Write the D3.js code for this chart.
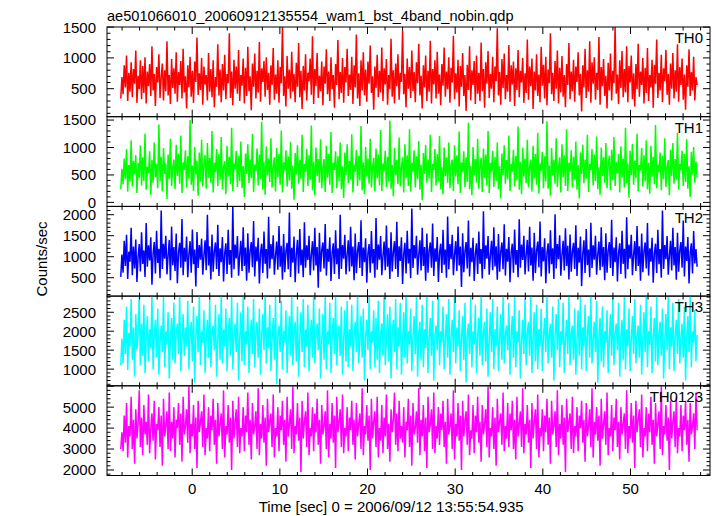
<!DOCTYPE html>
<html>
<head>
<meta charset="utf-8">
<script src="https://cdn.jsdelivr.net/npm/d3@7"></script>
<style>
  html, body { margin: 0; padding: 0; background: #fff; }
  svg { display: block; }
  text { font-family: "Liberation Sans", Arial, Helvetica, sans-serif; fill: #000; }
</style>
</head>
<body>
<script>
// ---------- data ----------
const title = "ae501066010_20060912135554_wam1_bst_4band_nobin.qdp";
const xLabel = "Time [sec] 0 = 2006/09/12 13:55:54.935";
const yLabel = "Counts/sec";
const bands = ["TH0", "TH1", "TH2", "TH3", "TH0123"];
const bandColors = ["#ff0000", "#00ff00", "#0000ff", "#00ffff", "#ff00ff"];
const timeStart = -8.15, timeEnd = 57.6;
const xTicks = [0, 10, 20, 30, 40, 50];
const yTickLabels = [
  [500, 1000, 1500],
  [0, 500, 1000, 1500],
  [500, 1000, 1500, 2000],
  [1000, 1500, 2000, 2500],
  [2000, 3000, 4000, 5000]
];

const th0 = [
340,690,410,880,520,1040,300,760,450,930,360,820,580,1120,270,710,490,960,330,870,430,1010,260,780,540,
900,380,1190,470,740,220,850,600,1060,350,690,910,310,800,460,1270,390,720,250,980,510,830,420,1090,290,
770,560,950,340,1150,440,700,180,880,520,1020,370,790,270,940,610,1330,400,750,480,1000,240,860,570,720,
310,1080,450,820,360,960,200,690,530,1220,390,810,280,900,470,1050,330,740,590,1400,350,780,230,970,500,
860,420,1130,300,720,550,990,260,840,380,1180,460,700,150,910,530,1070,340,790,440,1260,290,830,610,950,
370,1010,480,760,240,880,560,1160,320,730,420,960,270,850,590,1500,380,700,210,1030,500,810,340,1100,450,
740,280,920,530,1240,360,790,170,870,470,1060,310,760,620,990,400,1350,250,820,540,1080,350,710,460,940,
230,860,580,1140,410,780,300,1010,490,720,190,900,560,1290,330,770,430,1000,270,850,600,1150,380,730,480,
1020,250,880,520,1380,340,750,220,960,470,1090,390,810,290,940,580,1200,430,700,160,860,510,1050,360,790,
440,1170,300,830,570,980,240,720,490,1310,370,800,260,910,540,1060,320,760,610,1450,410,740,200,990,500,
850,350,1120,460,770,280,930,590,1230,390,710,180,880,520,1040,300,790,450,1280,260,820,570,960,340,1100,
420,730,230,900,550,1170,370,780,490,1010,270,840,600,1360,330,750,440,970,210,870,530,1080,380,720,140,
890,480,1190,310,800,560,950,250,1040,420,760,300,1250,460,820,190,930,580,1110,350,740,500,1020,280,860,
620,1480,390,770,240,980,510,1070,330,720,450,1210,290,880,570,940,220,830,480,1130,360,790,600,1000,270,
750,430,1300,320,860,540,990,170,780,470,1060,380,730,280,1180,550,890,340,1020,230,810,590,1400,410,760,
300,950,500,1120,260,840,440,1030,370,720,200,900,560,1240,330,780,460,970,290,860,610,1090,390,740,130,
880,520,1150,350,800,450,1270,270,930,580,1010,320,760,480,1340,240,850,540,980,380,710,180,920,470,1070,
310,790,590,1500,420,730,250,960,510,1110,360,820,440,1190,280,870,600,1040,330,750,210,900,490,1230,370,
780,560,1000,260,840,430,1160,300,720,520,970,190,890,580,1300,350,760,470,1050,280,830,620,1130,400,740,
240,910,500,1080,340,800,450,1220,290,850,560,990,320,730,160,880,530,1140,380,770,470,1020,310,690,560];

const th1 = [
240,610,330,800,420,970,200,680,380,1130,290,760,510,860,170,720,450,1040,310,820,390,1250,230,650,530,
930,140,770,360,1090,460,700,260,1420,380,830,200,990,520,710,60,870,420,1160,300,640,780,240,1050,480,
890,340,1220,170,730,590,950,270,840,430,1500,320,670,210,1010,510,760,120,910,380,1140,290,700,860,250,
1080,450,810,360,1300,180,720,550,970,300,880,410,1190,240,640,750,150,1030,470,830,330,1360,210,710,600,
940,280,850,390,1110,260,660,100,890,520,1060,350,780,440,1250,190,690,570,980,310,870,420,1470,230,740,
140,1020,490,800,370,1170,270,650,820,200,990,460,880,320,1310,180,730,580,950,290,840,400,1100,250,670,
50,900,510,1040,340,770,430,1230,190,700,560,970,300,860,410,1400,220,740,130,1000,480,790,360,1150,260,
650,790,190,1030,450,880,320,1280,170,720,590,930,260,840,390,1090,240,660,80,910,500,1060,350,760,420,
1240,180,690,560,960,300,850,400,1390,220,730,150,1010,470,800,340,1160,270,640,810,200,980,440,870,310,
1320,210,710,570,940,280,830,380,1490,250,680,110,990,490,770,330,1180,290,630,820,180,1060,450,860,300,
1330,200,720,560,950,270,840,420,1120,230,690,40,900,520,1050,360,780,430,1230,190,700,590,970,310,880,
390,1210,240,640,150,1000,480,820,360,1090,260,690,780,210,1040,470,860,330,1290,170,730,550,930,280,820,
370,1450,240,660,130,1010,490,790,360,1160,250,640,810,190,980,450,870,310,1300,170,720,570,940,280,830,
390,1090,240,660,70,890,500,1040,340,770,420,1220,210,700,560,960,290,850,400,1380,230,740,150,1000,470,
800,350,1140,270,650,780,200,1030,440,880,320,1270,160,710,580,920,260,840,380,1480,250,670,120,990,490,
770,340,1170,280,630,820,180,1060,460,860,300,1330,210,720,560,950,270,830,410,1110,230,680,70,910,520,
1050,350,780,430,1230,190,700,590,970,310,870,390,1200,240,640,140,1000,480,820,360,1080,260,690,850,220,
960,410,1190,300,740,530,880,180,1020,450,800,270,1360,350,710,90,940,500,1070,320,760,440,1250,200,680,
580,990,290,860,380,1130,240,720,160,1030,470,830,330,1410,260,690,550,910,220,850,420,1170,280,650,770,
130,960,480,1080,340,790,410,1270,230,700,590,940,300,880,370,1150,250,660,100,920,510,1010,360,750,450];

const th2 = [
520,1050,620,1380,780,1520,470,1120,880,1690,560,1240,720,1410,400,990,1300,650,1580,830,1150,520,1800,760,1270,
910,1460,330,1080,1350,600,1620,850,1190,490,2100,710,1310,950,1500,580,1040,1400,440,1720,800,1230,660,1550,370,
1100,1330,740,1900,560,1210,880,1480,510,1060,1370,620,1650,820,1170,290,1590,730,1280,930,1430,570,1020,1390,680,
2000,790,1250,460,1530,640,1130,1340,710,1760,540,1200,870,1470,410,1080,1320,590,1640,810,1160,500,2200,700,1290,
960,1490,550,1050,1380,660,1700,780,1220,430,1560,620,1140,1350,750,1850,530,1240,890,1450,360,1090,1310,610,1600,
830,1180,480,1950,720,1300,940,1510,570,1030,1360,690,1730,760,1260,450,1540,630,1120,1330,700,2050,520,1210,860,
1480,390,1070,1400,600,1660,800,1170,510,1820,740,1270,920,1500,560,1040,1370,670,1690,790,1230,260,1570,640,1150,
1340,720,1780,550,1190,880,1460,420,1100,1320,590,1630,820,1200,470,2000,710,1280,950,1520,580,1060,1390,650,1710,
770,1240,440,1550,610,1130,1350,730,1870,540,1220,870,1440,380,1080,1300,620,1610,840,1180,500,1920,690,1290,930,
1490,560,1020,1360,680,1740,760,1210,470,1580,650,1110,1370,710,1830,520,1250,900,1460,350,1070,1330,600,1620,840,
1190,490,2150,730,1280,960,1500,570,1040,1390,670,1690,780,1230,430,1550,620,1150,1340,740,1790,540,1200,880,1470,
400,1090,1310,610,1640,810,1170,500,1960,700,1300,940,1520,560,1050,1370,660,1720,790,1240,280,1560,630,1130,1350,
720,1860,530,1210,870,1450,420,1080,1320,590,1600,830,1180,480,2080,710,1270,950,1490,570,1030,1380,680,1700,770,
1250,450,1540,640,1120,1340,700,1770,550,1190,880,1470,390,1100,1310,620,1650,810,1160,510,1890,740,1290,920,1500,
580,1060,1400,650,1710,790,1220,430,1570,610,1140,1360,750,1840,530,1230,890,1440,370,1090,1320,600,1630,820,1200,
470,2010,720,1300,940,1510,550,1040,1380,670,1680,780,1260,460,1530,640,1120,1330,710,1750,540,1210,860,1480,300,
1070,1390,610,1660,800,1170,510,1810,730,1270,930,1500,570,1050,1360,680,1700,760,1230,440,1560,620,1140,1350,730,
1880,540,1220,870,1460,410,1090,1320,590,1620,830,1190,480,1940,700,1290,950,1520,560,1040,1370,660,1730,780,1250,
430,1550,630,1130,1340,720,1800,550,1200,880,1450,380,1080,1310,610,1640,820,1180,500,2100,710,1280,940,1490,570,
1020,1380,670,1690,790,1230,450,1570,640,1150,1350,740,1860,530,1240,900,1470,360,1090,1320,600,1610,840,1180,760];

const th3 = [
1100,1800,1150,2300,1400,2650,980,1950,1600,2850,1250,2100,800,2450,1500,1900,2950,1100,2200,1350,2700,900,1750,2400,1200,
2050,1550,2950,1000,1850,2300,1300,2600,850,1700,2150,1450,2900,1050,2000,1650,2500,750,1800,2350,1250,2750,1150,1950,2200,
1400,2950,950,1750,2450,1350,2100,1600,2800,1000,1900,2250,1200,2650,650,1850,2400,1450,2950,1100,2000,1700,2550,900,1800,
2300,1300,2850,1050,1950,2150,1500,2700,800,1750,2450,1250,2950,1150,2050,1600,2600,950,1850,2350,1350,2900,1000,1900,2200,
1450,2750,700,1800,2500,1200,2950,1100,2000,1650,2650,900,1750,2300,1400,2850,1050,1950,2250,1300,2600,850,1850,2450,1500,
2950,1150,2100,1550,2700,950,1800,2350,1250,2900,600,1900,2150,1450,2800,1000,2000,1700,2550,900,1750,2400,1350,2950,1100,
1950,2250,1200,2650,800,1850,2500,1450,2850,1050,2050,1600,2700,950,1800,2300,1300,2950,1150,1900,2200,1500,2600,750,1750,
2450,1250,2900,1000,2000,1650,2750,900,1850,2350,1400,2950,1100,1950,2150,1350,2650,850,1800,2550,1200,2800,1050,2050,1600,
2700,950,1900,2250,1450,2950,1150,1750,2400,1300,2600,700,1850,2300,1500,2900,1000,2000,1700,2550,1050,2350,1250,2800,900,
1950,2200,1350,2950,1100,1800,2450,1200,2650,750,1900,2300,1450,2850,1000,2100,1600,2750,850,1750,2500,1300,2950,1150,2000,
1650,2600,950,1850,2400,1400,2900,800,1950,2250,1250,2700,1050,2050,1550,2950,900,1800,2350,1350,2800,700,1900,2150,1500,
2950,1100,2000,1700,2650,1000,1750,2450,1300,2850,850,1850,2300,1450,2950,1150,2100,1600,2550,950,1800,2400,1250,2750,650,
1900,2200,1400,2900,1050,2000,1650,2700,900,1850,2350,1350,2950,1100,1950,2250,1200,2600,800,1750,2500,1450,2850,1000,2050,
1600,2650,950,1800,2450,1250,2950,1150,1900,2150,1500,2750,850,1850,2400,1300,2900,1050,2000,1700,2550,750,1750,2300,1400,
2850,1100,1950,2250,1350,2950,900,1800,2500,1200,2700,1000,2050,1600,2600,950,1850,2350,1450,2950,1150,1900,2200,1300,2650,
700,1850,2450,1500,2850,1050,2000,1650,2750,900,1800,2300,1400,2950,1100,1950,2150,1250,2600,850,1750,2550,1350,2900,1000,
2100,1600,2700,950,1900,2400,1300,2950,1150,1750,2250,1450,2800,650,1850,2350,1200,2650,1050,2000,1700,2550,900,1800,2450,
1350,2950,1100,1950,2200,1500,2750,800,1850,2300,1250,2900,1000,2050,1600,2600,950,1750,2400,1400,2850,1150,1900,2150,1300,
2700,850,1800,2500,1450,2950,1050,2000,1650,2650,900,1850,2350,1200,2950,1100,1950,2250,1350,2600,750,1750,2450,1500,2900,
1000,2100,1600,2750,950,1900,2300,1400,2850,1150,1800,2200,1300,2650,700,1850,2400,1450,2950,1050,2000,1700,2550,1200,1900];

const th0123 = [
3000,3800,2900,4600,3300,5200,2600,4100,3600,5500,3000,4400,2300,4900,3500,4200,5800,3100,4500,2700,5100,3700,4300,3200,5600,
2800,4000,4700,3400,5300,2500,4200,3900,5000,3100,4600,2200,5400,3600,4100,4800,3000,5700,2900,4300,3500,5000,2600,4400,4000,
5200,3200,4700,2400,5500,3700,4100,4900,3300,6000,2800,4200,3600,5100,3000,4500,2100,5300,3800,4300,4800,3100,5600,2700,4000,
3500,5000,2900,4600,3900,5400,3200,4400,2300,5200,3600,4200,4700,3000,5800,2600,4100,3700,5100,3300,4500,2000,5300,3500,4300,
4900,3100,5500,2800,4000,3600,5000,2900,4600,3800,5700,3200,4400,2500,5200,3700,4100,4800,3000,5900,2700,4200,3500,5100,3300,
4500,2200,5400,3800,4300,4700,3100,5600,2600,4000,3600,5000,2900,4600,3900,5300,3200,4400,2400,5500,3600,4200,4900,3000,6000,
2800,4100,3700,5200,3400,4500,1900,5300,3500,4300,4800,3100,5700,2700,4000,3600,5000,2900,4700,3800,5400,3200,4400,2300,5100,
3700,4100,4800,3000,5800,2600,4200,3500,5200,3300,4600,2100,5500,3800,4300,4900,3100,5600,2800,4000,3600,5000,2900,4500,3900,
5300,3200,4400,2500,5200,3600,4200,4700,3000,5900,2700,4100,3700,5100,3400,4600,2000,5400,3500,4300,4800,3100,5500,2600,4000,
3400,5100,2800,4500,3600,5600,3000,4200,2400,4900,3800,4400,5700,3200,4700,2900,5300,3500,4100,3300,5000,2600,4300,3900,5400,
3100,4600,2200,5200,3700,4000,4800,3300,5900,2700,4400,3600,5100,2900,4500,2100,5500,3800,4200,4900,3000,5700,2800,4100,3500,
5000,3200,4700,3900,5300,3100,4300,2300,5400,3700,4100,4700,3000,5800,2500,4200,3600,5200,3400,4600,2000,5300,3600,4400,4800,
3200,5600,2700,3900,3500,5100,2800,4600,3800,5500,3300,4300,2400,5100,3700,4200,4900,3100,6000,2600,4000,3600,5000,3000,4500,
2200,5400,3800,4300,4700,3200,5700,2900,4100,3500,5200,3100,4700,3900,5300,3000,4400,2500,5500,3600,4200,4800,3100,5900,2800,
4200,3700,5100,3300,4400,2100,5200,3500,4300,4900,3000,5600,2600,4000,3600,4900,2900,4600,3800,5400,3200,4500,2300,5300,3700,
4100,4800,3100,5800,2700,4200,3500,5100,3200,4500,1900,5400,3800,4300,4700,3000,5500,2800,4100,3600,5000,2900,4600,4000,5300,
3300,4400,2400,5200,3600,4100,4900,3100,5900,2600,4300,3700,5000,3400,4600,2200,5400,3500,4200,4800,3200,5700,2700,4000,3600,
5100,2900,4500,3900,5400,3100,4300,2500,5000,3700,4200,4700,3000,5800,2800,4100,3500,5200,3300,4600,2100,5300,3800,4400,4900,
3100,5600,2600,4000,3600,5000,2900,4700,3800,5500,3200,4400,2300,5200,3600,4200,4800,3000,6000,2700,4100,3700,5100,3400,4500,
2000,5300,3500,4300,4800,3100,5500,2800,4000,3600,5100,2900,4600,3900,5300,3200,4400,2400,5200,3700,4100,4700,3000,5700,3900];

const series = [th0, th1, th2, th3, th0123];

// ---------- layout ----------
const W = 717, H = 516;
const pLeft = 107, pRight = 710, pTop = 27, pBottom = 475.5;
const nP = series.length;
const pH = (pBottom - pTop) / nP;
const yDomains = [[45, 1502], [-73, 1561], [62, 2198], [560, 2926], [1737, 6019]];
const yMajor = [500, 500, 500, 500, 1000];
const yMinor = [100, 100, 100, 100, 200];

const svg = d3.select("body").append("svg").attr("width", W).attr("height", H);

const x = d3.scaleLinear().domain([-9.72, 59.07]).range([pLeft, pRight]);

svg.append("text").attr("x", pLeft).attr("y", 21).attr("font-size", 14.6).text(title);

const defs = svg.append("defs");

series.forEach((vals, p) => {
  const y0 = pTop + p * pH, y1 = y0 + pH;
  const y = d3.scaleLinear().domain(yDomains[p]).range([y1, y0]);
  const g = svg.append("g");
  defs.append("clipPath").attr("id", "clip" + p)
    .append("rect").attr("x", pLeft).attr("y", y0).attr("width", pRight - pLeft).attr("height", pH);
  const dt = (timeEnd - timeStart) / (vals.length - 1);
  const line = d3.line().x((d, i) => x(timeStart + i * dt)).y(d => y(d));
  g.append("path").datum(vals)
    .attr("clip-path", "url(#clip" + p + ")")
    .attr("d", line)
    .attr("fill", "none")
    .attr("stroke", bandColors[p])
    .attr("stroke-width", 1.5)
    .attr("stroke-linejoin", "bevel");

  // frame
  g.append("rect").attr("x", pLeft).attr("y", y0).attr("width", pRight - pLeft).attr("height", pH)
    .attr("fill", "none").attr("stroke", "#000").attr("stroke-width", 1);

  // y ticks (inward, both sides)
  const [dmin, dmax] = yDomains[p];
  const minorT = d3.range(Math.ceil(dmin / yMinor[p]) * yMinor[p], dmax + 1e-6, yMinor[p]);
  minorT.forEach(v => {
    const isMaj = Math.abs(v / yMajor[p] - Math.round(v / yMajor[p])) < 1e-6;
    const len = isMaj ? 7 : 3.5;
    const yy = y(v);
    g.append("line").attr("x1", pLeft).attr("x2", pLeft + len).attr("y1", yy).attr("y2", yy)
      .attr("stroke", "#000").attr("stroke-width", 1);
    g.append("line").attr("x1", pRight).attr("x2", pRight - len).attr("y1", yy).attr("y2", yy)
      .attr("stroke", "#000").attr("stroke-width", 1);
  });
  yTickLabels[p].forEach(v => {
    g.append("text").attr("x", 96).attr("y", y(v)).attr("dy", "0.36em")
      .attr("text-anchor", "end").attr("font-size", 15).text(v);
  });

  // x ticks (top and bottom of each panel)
  d3.range(-8, 59, 2).forEach(t => {
    const len = t % 10 === 0 ? 7 : 3.5;
    const xx = x(t);
    g.append("line").attr("x1", xx).attr("x2", xx).attr("y1", y1).attr("y2", y1 - len)
      .attr("stroke", "#000").attr("stroke-width", 1);
    g.append("line").attr("x1", xx).attr("x2", xx).attr("y1", y0).attr("y2", y0 + len)
      .attr("stroke", "#000").attr("stroke-width", 1);
  });

  // band label
  g.append("text").attr("x", 703).attr("y", y0 + 16.3).attr("text-anchor", "end")
    .attr("font-size", 15).text(bands[p]);
});

// x tick labels
xTicks.forEach(t => {
  svg.append("text").attr("x", x(t)).attr("y", 494).attr("text-anchor", "middle")
    .attr("font-size", 15).text(t);
});
svg.append("text").attr("x", x(22.7)).attr("y", 512).attr("text-anchor", "middle")
  .attr("font-size", 15).text(xLabel);
svg.append("text").attr("transform", "translate(47,259) rotate(-90)")
  .attr("text-anchor", "middle").attr("font-size", 15).text(yLabel);
</script>
</body>
</html>
